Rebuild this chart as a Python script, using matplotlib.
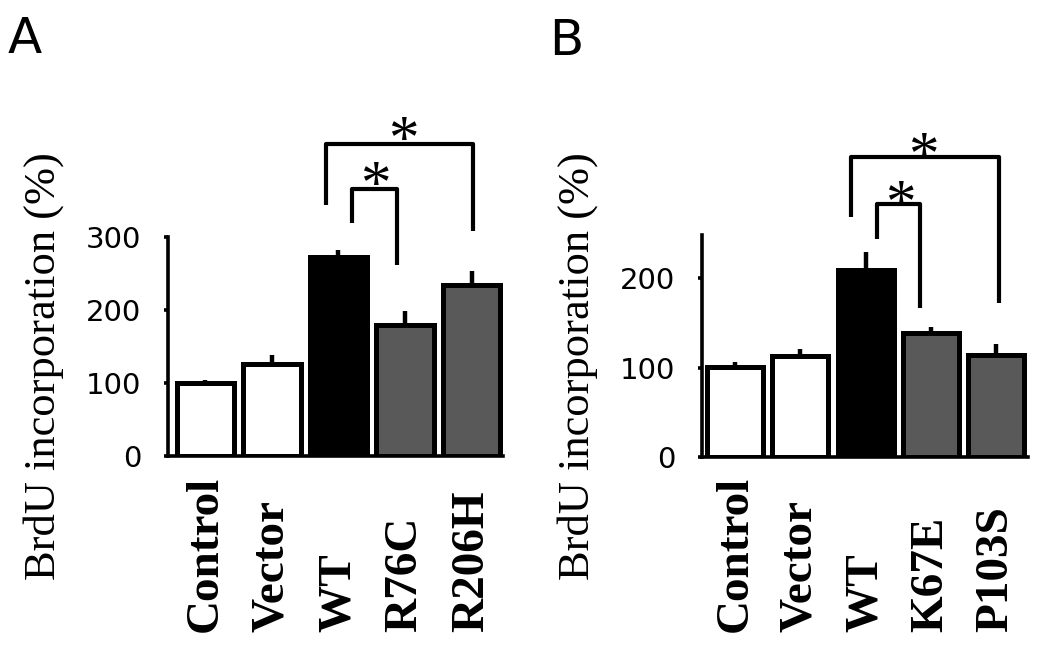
import matplotlib
matplotlib.use('Agg')
import matplotlib.pyplot as plt

# values
labels_a = ['Control', 'Vector', 'WT', 'R76C', 'R206H']
vals_a = [100, 126, 273, 180, 235]
err_a = [4, 13, 10, 19, 19]

labels_b = ['Control', 'Vector', 'WT', 'K67E', 'P103S']
vals_b = [101, 113, 209, 139, 114]
err_b = [5, 8, 20, 7, 12]

bar_colors = ['white', 'white', 'black', '#595959', '#595959']

# significance brackets: (x left, x right, top, left leg end, right leg end, star x, star y)
brackets_a = [(1.81, 4.02, 429, 345, 309, 2.97, 455),
              (2.20, 2.88, 367, 320, 262, 2.56, 393)]
brackets_b = [(1.78, 4.04, 336, 269, 172, 2.88, 354),
              (2.17, 2.83, 283, 244, 167, 2.53, 300)]

W, H = 1050, 654
fig = plt.figure(figsize=(10.5, 6.54), dpi=100)
serif = 'Liberation Serif'


def panel(rect, labels, vals, errs, brackets, ylim, yticks, xlim, lab_y):
    ax = fig.add_axes(rect)
    x = range(len(vals))
    ax.bar(x, vals, width=0.86, color=bar_colors, edgecolor='black',
           linewidth=3.6, zorder=2)
    # upper error bars only
    ax.errorbar(x, vals, yerr=[[0] * len(errs), errs], fmt='none',
                ecolor='black', elinewidth=3.2, capsize=0, zorder=1)
    ax.set_xlim(*xlim)
    ax.set_ylim(*ylim)
    ax.set_yticks(yticks)
    ax.set_xticks([])
    ax.spines['top'].set_visible(False)
    ax.spines['right'].set_visible(False)
    for s in ['left', 'bottom']:
        ax.spines[s].set_linewidth(2.6)
    ax.tick_params(axis='y', length=3, width=2.6, pad=16, labelsize=21)
    for i, lab in enumerate(labels):
        ax.text(i, lab_y, lab, rotation=90, ha='center', va='bottom',
                fontsize=34, fontweight='bold', family=serif,
                transform=ax.get_xaxis_transform(), clip_on=False)
    for x1, x2, top, yl, yr, sx, sy in brackets:
        ax.plot([x1, x1, x2, x2], [yl, top, top, yr], color='black',
                lw=3, clip_on=False, solid_capstyle='butt')
        ax.annotate('*', xy=(sx, sy), xytext=(0, -23),
                    textcoords='offset points', ha='center', va='baseline',
                    fontsize=44, family=serif, annotation_clip=False)
    return ax


panel([168 / W, 1 - 456 / H, 335 / W, 218.5 / H], labels_a, vals_a, err_a,
      brackets_a, (0, 300), [0, 100, 200, 300], (-0.56, 4.47), -0.805)
panel([702 / W, 1 - 457 / H, 326 / W, 221.6 / H], labels_b, vals_b, err_b,
      brackets_b, (0, 248), [0, 100, 200], (-0.51, 4.49), -0.79)

for xc in [44, 578]:
    fig.text(xc / W, 1 - 366 / H, 'BrdU incorporation (%)', rotation=90,
             ha='center', va='center', fontsize=32, family=serif)

fig.text(8 / W, 1 - 15 / H, 'A', ha='left', va='top', fontsize=36)
fig.text(549 / W, 1 - 17 / H, 'B', ha='left', va='top', fontsize=36)

fig.savefig('out.png', dpi=100)
